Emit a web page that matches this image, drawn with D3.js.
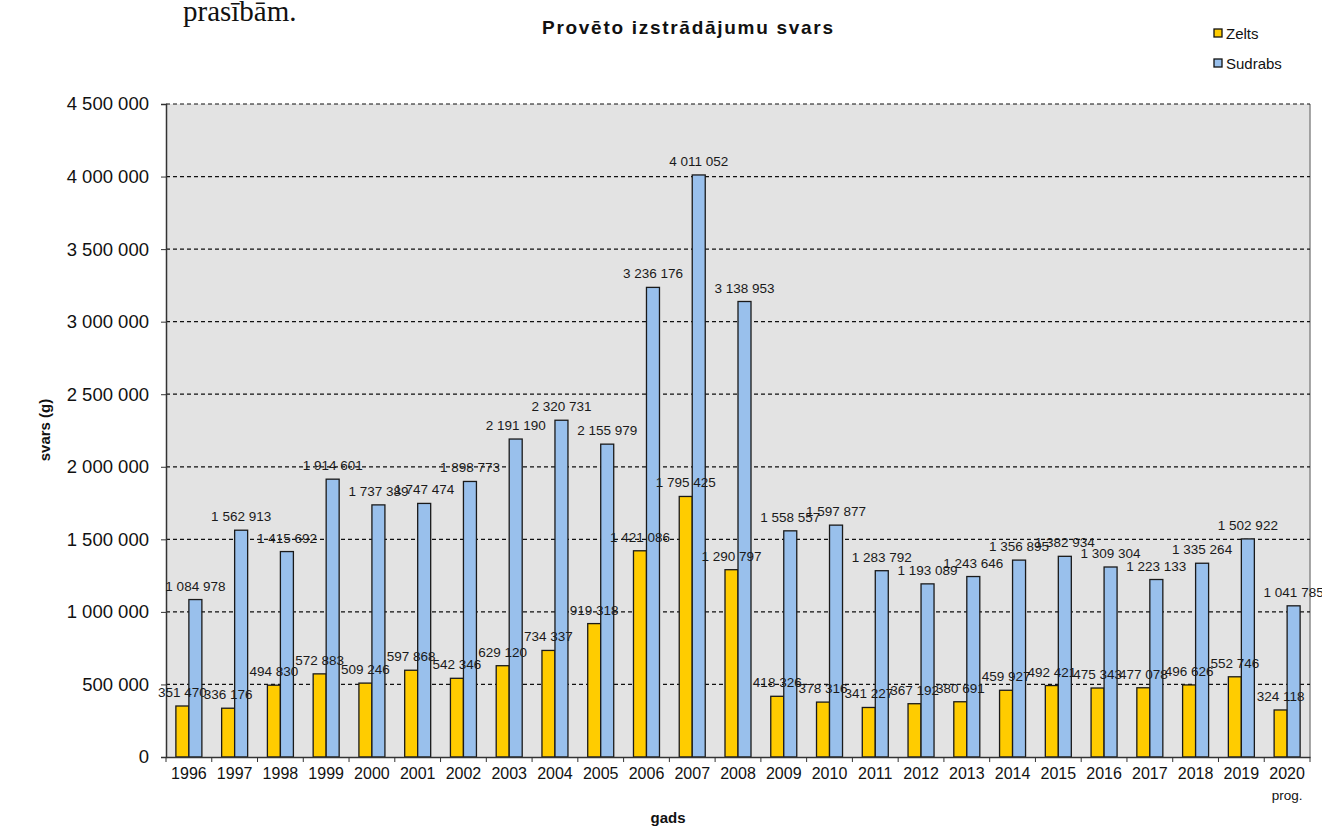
<!DOCTYPE html>
<html>
<head>
<meta charset="utf-8">
<script src="https://cdn.jsdelivr.net/npm/d3@7"></script>
<style>
  body { margin: 0; background: #fff; }
  svg { display: block; font-family: "Liberation Sans", Arial, sans-serif; }
</style>
</head>
<body>
<svg id="chart" width="1322" height="828"></svg>
<script>
const years = ['1996', '1997', '1998', '1999', '2000', '2001', '2002', '2003', '2004', '2005', '2006', '2007', '2008',
    '2009', '2010', '2011', '2012', '2013', '2014', '2015', '2016', '2017', '2018', '2019', '2020'];
const zelts = [351470, 336176, 494830, 572883, 509246, 597868, 542346, 629120, 734337, 919318, 1421086, 1795425, 1290797,
    418326, 378316, 341227, 367192, 380691, 459927, 492421, 475343, 477078, 496626, 552746, 324118];
const sudrabs = [1084978, 1562913, 1415692, 1914601, 1737389, 1747474, 1898773, 2191190, 2320731, 2155979, 3236176, 4011052, 3138953,
    1558557, 1597877, 1283792, 1193089, 1243646, 1356895, 1382934, 1309304, 1223133, 1335264, 1502922, 1041785];
const seriesNames = ['Zelts', 'Sudrabs'];
const colors = ['#ffcc00', '#99c0ec'];
const yTicks = [0, 500000, 1000000, 1500000, 2000000, 2500000, 3000000, 3500000, 4000000, 4500000];

const plotLeft = 166, plotRight = 1310, plotTop = 104, plotBottom = 757;

const svg = d3.select('#chart');
const fmt = function (v) { return d3.format(',')(v).replace(/,/g, ' '); };

const x = d3.scaleBand().domain(years).range([plotLeft, plotRight]).padding(0);
const xs = d3.scaleBand().domain(seriesNames).range([0, x.bandwidth()]).paddingInner(0).paddingOuter(0.76);
const y = d3.scaleLinear().domain([0, 4500000]).range([plotBottom, plotTop]);

// text cut off above the chart (page text from the source document)
svg.append('text')
    .attr('x', 183).attr('y', 21)
    .style('font-family', '"Liberation Serif", "Times New Roman", serif')
    .style('font-size', '29px')
    .attr('fill', '#111')
    .text('prasībām.');

// plot area
svg.append('rect')
    .attr('x', plotLeft).attr('y', plotTop)
    .attr('width', plotRight - plotLeft).attr('height', plotBottom - plotTop)
    .attr('fill', '#e3e3e3');

svg.append('line')
    .attr('x1', plotRight).attr('x2', plotRight).attr('y1', plotTop).attr('y2', plotBottom)
    .attr('stroke', '#8a8a8a').attr('stroke-width', 1.5);

// grid
svg.append('g')
    .selectAll('line')
    .data(yTicks.filter(function (d) { return d > 0; }))
    .enter()
    .append('line')
    .attr('x1', plotLeft).attr('x2', plotRight)
    .attr('y1', function (d) { return y(d); })
    .attr('y2', function (d) { return y(d); })
    .attr('stroke', '#111')
    .attr('stroke-width', 1.2)
    .attr('stroke-dasharray', '4,3');

// y axis
const yAxis = d3.axisLeft(y).tickValues(yTicks).tickFormat(fmt).tickSize(5).tickPadding(12);
const gy = svg.append('g').attr('transform', 'translate(' + plotLeft + ',0)').call(yAxis);
gy.select('.domain').attr('stroke', '#333').attr('stroke-width', 1.5);
gy.selectAll('.tick line').attr('stroke', '#333');
gy.selectAll('.tick text')
    .style('font-size', '18.5px')
    .style('font-family', '"Liberation Sans", Arial, sans-serif')
    .attr('fill', '#111');

// bars
const groups = svg.append('g')
    .selectAll('g')
    .data(years)
    .enter()
    .append('g')
    .attr('transform', function (d) { return 'translate(' + x(d) + ',0)'; });

const barData = function (d, i) {
    return [
        { key: 'Zelts', value: zelts[i] },
        { key: 'Sudrabs', value: sudrabs[i] },
    ];
};

groups.selectAll('rect')
    .data(barData)
    .enter()
    .append('rect')
    .attr('x', function (d) { return xs(d.key); })
    .attr('width', xs.bandwidth())
    .attr('y', function (d) { return y(d.value); })
    .attr('height', function (d) { return plotBottom - y(d.value); })
    .attr('fill', function (d, i) { return colors[i]; })
    .attr('stroke', '#1a1a1a')
    .attr('stroke-width', 1.3);

groups.selectAll('text')
    .data(barData)
    .enter()
    .append('text')
    .attr('x', function (d) { return xs(d.key) + xs.bandwidth() / 2; })
    .attr('y', function (d) { return y(d.value) - 9; })
    .attr('text-anchor', 'middle')
    .style('font-size', '13.5px')
    .attr('fill', '#1a1a1a')
    .text(function (d) { return fmt(d.value); });

// x axis
const xAxis = d3.axisBottom(x).tickSize(0).tickPadding(11);
const gx = svg.append('g').attr('transform', 'translate(0,' + plotBottom + ')').call(xAxis);
gx.select('.domain').attr('stroke', '#333').attr('stroke-width', 1.5);
gx.selectAll('.tick text')
    .style('font-size', '16px')
    .style('font-family', '"Liberation Sans", Arial, sans-serif')
    .attr('fill', '#111');
gx.selectAll('.sep')
    .data(years)
    .enter()
    .append('line')
    .attr('class', 'sep')
    .attr('x1', function (d) { return x(d) + x.bandwidth(); })
    .attr('x2', function (d) { return x(d) + x.bandwidth(); })
    .attr('y1', 0).attr('y2', 5)
    .attr('stroke', '#333');
gx.append('line').attr('x1', plotLeft).attr('x2', plotLeft).attr('y1', 0).attr('y2', 5).attr('stroke', '#333');
gx.append('text')
    .attr('x', x('2020') + x.bandwidth() / 2)
    .attr('y', 43)
    .attr('text-anchor', 'middle')
    .style('font-size', '13.5px')
    .attr('fill', '#111')
    .text('prog.');

// titles
svg.append('text')
    .attr('x', 542).attr('y', 34)
    .attr('textLength', 291)
    .attr('lengthAdjust', 'spacing')
    .style('font-size', '19px')
    .style('font-weight', 'bold')
    .attr('fill', '#111')
    .text('Provēto izstrādājumu svars');

svg.append('text')
    .attr('transform', 'translate(50,430) rotate(-90)')
    .attr('text-anchor', 'middle')
    .style('font-size', '15px')
    .style('font-weight', 'bold')
    .attr('fill', '#111')
    .text('svars (g)');

svg.append('text')
    .attr('x', 668).attr('y', 823)
    .attr('text-anchor', 'middle')
    .style('font-size', '15px')
    .style('font-weight', 'bold')
    .attr('fill', '#111')
    .text('gads');

// legend
const legend = svg.append('g')
    .selectAll('g')
    .data(seriesNames)
    .enter()
    .append('g')
    .attr('transform', function (d, i) { return 'translate(1214,' + (29 + i * 30) + ')'; });
legend.append('rect')
    .attr('width', 8).attr('height', 8)
    .attr('fill', function (d, i) { return colors[i]; })
    .attr('stroke', '#111').attr('stroke-width', 1.3);
legend.append('text')
    .attr('x', 12).attr('y', 9.5)
    .style('font-size', '15px')
    .attr('fill', '#111')
    .text(function (d) { return d; });
</script>
</body>
</html>
